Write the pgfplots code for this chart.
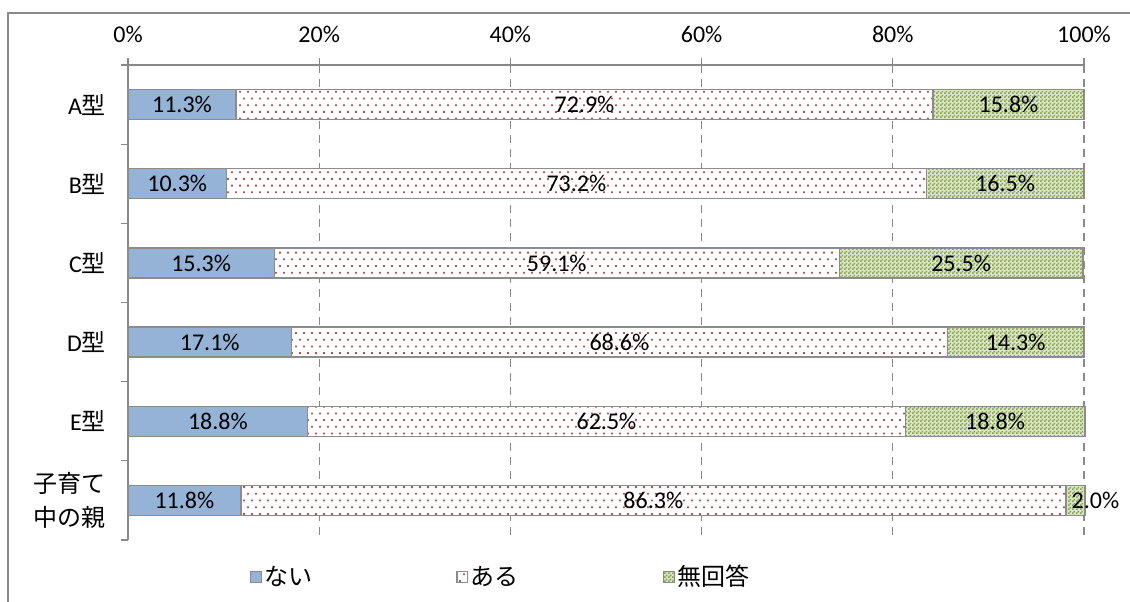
\documentclass[border=0pt]{standalone}
\usepackage{fontspec}
\setmainfont{Carlito}
\newfontfamily\cjk{Noto Sans CJK JP}
\usepackage{pgfplots}
\pgfplotsset{compat=1.18}
\usetikzlibrary{patterns}
\pgfkeys{/pgf/number format/assume math mode=true}

\definecolor{bblue}{HTML}{95B3D7}
\definecolor{bord}{HTML}{8C8C8C}
\definecolor{dotred}{HTML}{C0504D}
\definecolor{cgreen}{HTML}{9BBB59}
\definecolor{axgray}{HTML}{898989}

\pgfdeclarepatternformonly{reddots}{\pgfqpoint{-0.5pt}{-0.5pt}}{\pgfqpoint{4.5pt}{7.2pt}}{\pgfqpoint{4pt}{6.7pt}}{%
 \pgfpathrectangle{\pgfqpoint{-0.45pt}{-0.45pt}}{\pgfqpoint{0.9pt}{0.9pt}}%
 \pgfpathrectangle{\pgfqpoint{1.55pt}{2.9pt}}{\pgfqpoint{0.9pt}{0.9pt}}%
 \pgfusepath{fill}}

\pgfdeclarepatternformonly{checker}{\pgfpointorigin}{\pgfqpoint{2pt}{2pt}}{\pgfqpoint{2pt}{2pt}}{%
 \pgfpathrectangle{\pgfpointorigin}{\pgfqpoint{1pt}{1pt}}%
 \pgfpathrectangle{\pgfqpoint{1pt}{1pt}}{\pgfqpoint{1pt}{1pt}}%
 \pgfusepath{fill}}

\begin{document}
\begin{tikzpicture}
\begin{axis}[
  at={(64pt,-270pt)}, anchor=south west,
  scale only axis, width=478pt, height=237.5pt,
  xbar stacked, bar width=15pt,
  xmin=0, xmax=100, ymin=-0.5, ymax=5.5, y dir=reverse,
  clip=false,
  axis x line*=top, axis y line*=left,
  axis line style={draw=axgray, line width=0.6pt},
  xtick={0,20,...,100},
  xticklabel={\pgfmathprintnumber{\tick}\%},
  xticklabel style={font=\fontsize{12}{14.4}\selectfont, yshift=4pt},
  xmajorgrids,
  major grid style={dash pattern=on 4pt off 3pt, draw=axgray, line width=0.6pt},
  tick align=outside, major tick length=3.5pt,
  tick style={draw=axgray, line width=0.6pt},
  ytick={-0.5,0.5,...,5.5}, yticklabels={},
  extra y ticks={0,1,2,3,4,5},
  extra y tick labels={A{\cjk 型}, B{\cjk 型}, C{\cjk 型}, D{\cjk 型}, E{\cjk 型}, {{\cjk 子育て}\\[2.6pt]{\cjk 中の親}}},
  extra y tick style={tick style={draw=none}, grid=none},
  yticklabel style={font=\fontsize{12}{14.4}\selectfont, align=left, xshift=-4pt},
  point meta=x,
  visualization depends on={rawx \as \rawx},
  nodes near coords={\pgfmathprintnumber[fixed,fixed zerofill,precision=1]{\rawx}\%},
  every node near coord/.append style={anchor=center, font=\fontsize{12}{14.4}\selectfont, text=black,
     shift={(axis direction cs:{ifthenelse(\rawx<5,2.1,0)},0)}},
  legend style={at={(0.121,-0.078)}, anchor=west, legend columns=3, draw=none, fill=none,
     font=\fontsize{12}{14.4}\selectfont\cjk, nodes={inner sep=1.2pt},
     /tikz/every even column/.append style={column sep=64.8pt}},
  legend image code/.code={\draw[#1, draw=bord, line width=0.6pt] (0pt,-2.7pt) rectangle (5.4pt,2.7pt);},
]
\addplot[fill=bblue, draw=bord, line width=0.7pt] coordinates {(11.3,0) (10.3,1) (15.3,2) (17.1,3) (18.8,4) (11.8,5)};
\addplot[fill=white, draw=bord, line width=0.7pt, postaction={pattern=reddots, pattern color=dotred}] coordinates {(72.9,0) (73.2,1) (59.1,2) (68.6,3) (62.5,4) (86.3,5)};
\addplot[fill=cgreen!35!white, draw=bord, line width=0.7pt, postaction={pattern=checker, pattern color=cgreen!85!black}] coordinates {(15.8,0) (16.5,1) (25.5,2) (14.3,3) (18.8,4) (2.0,5)};
\legend{\makebox[30pt][l]{ない}, \makebox[30pt][l]{ある}, 無回答}
\end{axis}
\draw[axgray, line width=0.8pt] (4pt,-310pt) -- (4pt,-6.5pt) -- (575pt,-6.5pt);
\pgfresetboundingbox
\useasboundingbox (0,0) rectangle (565pt,-300.5pt);
\end{tikzpicture}
\end{document}
